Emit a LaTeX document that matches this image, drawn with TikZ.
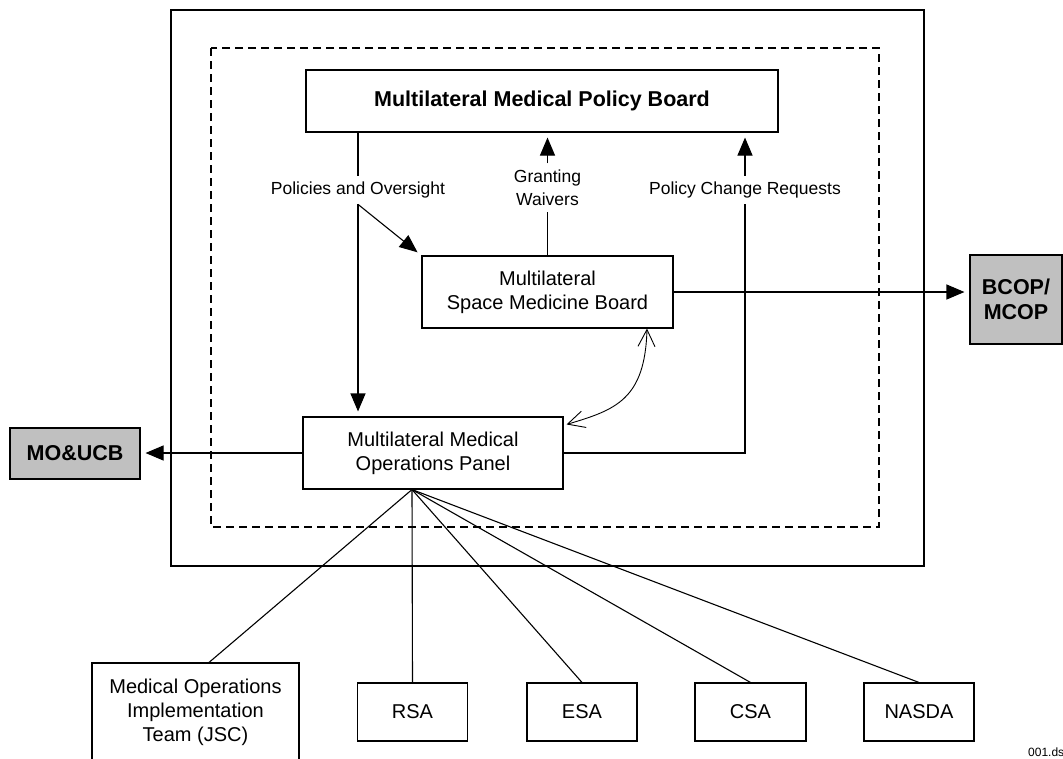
\documentclass[tikz,border=0pt]{standalone}
\usepackage{fontspec}
\setmainfont{Liberation Sans}
\usetikzlibrary{arrows.meta,calc}
\definecolor{boxgray}{RGB}{192,192,192}
\tikzset{
  box/.style={draw, line width=1.1pt, align=center, inner sep=0pt, fill=white,
    font=\fontsize{20}{24}\selectfont},
  gbox/.style={box, fill=boxgray, font=\fontsize{21.5}{25}\selectfont\bfseries},
  lbl/.style={align=center, inner xsep=2pt, inner ysep=6pt,
    font=\fontsize{17.5}{23}\selectfont},
  conn/.style={line width=1.1pt},
  arr/.style={conn, -{Triangle[length=18pt,width=15pt]}, shorten >=5pt},
  darr/.style={line width=0.9pt, {Straight Barb[length=17pt,width=17pt]}-{Straight Barb[length=17pt,width=17pt]}},
}
\begin{document}
\begin{tikzpicture}[x=1pt,y=-1pt]
\useasboundingbox (0,0) rectangle (1063,758);
% frames
\draw[line width=2pt] (171,10) rectangle (924,566);
\draw[line width=2pt, dash pattern=on 8pt off 5pt] (211,48) rectangle (879,527);

% main nodes
\node[box, minimum width=472pt, minimum height=62pt, font=\fontsize{21.5}{25}\selectfont\bfseries] (mmpb) at (542,101)
  {Multilateral Medical Policy Board};
\node[box, minimum width=251pt, minimum height=72pt] (msmb) at (547.5,292)
  {Multilateral\\Space Medicine Board};
\node[box, minimum width=260pt, minimum height=72pt] (mmop) at (433,453)
  {Multilateral Medical\\Operations Panel};
\node[gbox, minimum width=130pt, minimum height=51pt] (moucb) at (75,453.5) {MO\&UCB};
\node[gbox, minimum width=92pt, minimum height=89pt] (bcop) at (1016,299.5) {BCOP/\\MCOP};

% bottom nodes
\node[box, minimum width=207pt, minimum height=98pt] (moit) at (195.5,712)
  {Medical Operations\\Implementation\\Team (JSC)};
\node[box, minimum width=110pt, minimum height=58pt] (rsa) at (412.5,712) {RSA};
\node[box, minimum width=110pt, minimum height=58pt] (esa) at (582,712) {ESA};
\node[box, minimum width=111pt, minimum height=58pt] (csa) at (750.5,712) {CSA};
\node[box, minimum width=110pt, minimum height=58pt] (nasda) at (919,712) {NASDA};

% labels
\node[lbl] (pol) at (358,190) {Policies and Oversight};
\node[lbl] (gw) at (547.5,187.5) {Granting\\Waivers};
\node[lbl] (pcr) at (745,190) {Policy Change Requests};

% connectors
\draw[conn] (mmpb.south -| pol) -- (pol.north);
\draw[arr] (pol.south) -- (mmop.north -| pol);
\draw[arr] (pol.south) -- (msmb.north west);

\draw[conn] (msmb.north) -- (gw.south);
\draw[arr] (gw.north) -- (mmpb.south -| gw);

\draw[conn] (mmop.east) -- (mmop.east -| pcr) -- (pcr.south);
\draw[arr] (pcr.north) -- (mmpb.south -| pcr);

\draw[arr] (msmb.east) -- (msmb.east -| bcop.west);
\draw[arr] (mmop.west) -- (mmop.west -| moucb.east);

\draw[darr] ([xshift=99.5pt]msmb.south) .. controls (645,400) and (615,410) .. ([shift={(3,8)}]mmop.north east);

% fan
\coordinate (fan) at ([xshift=-21pt]mmop.south);
\draw[conn] (fan) -- ([xshift=13.5pt]moit.north);
\draw[conn] (fan) -- (rsa.north);
\draw[conn] (fan) -- (esa.north);
\draw[conn] (fan) -- (csa.north);
\draw[conn] (fan) -- (nasda.north);

\node[anchor=north west, inner sep=0pt, font=\fontsize{12}{14}\selectfont] (code) at (1028,748) {001.ds};
\end{tikzpicture}
\end{document}
